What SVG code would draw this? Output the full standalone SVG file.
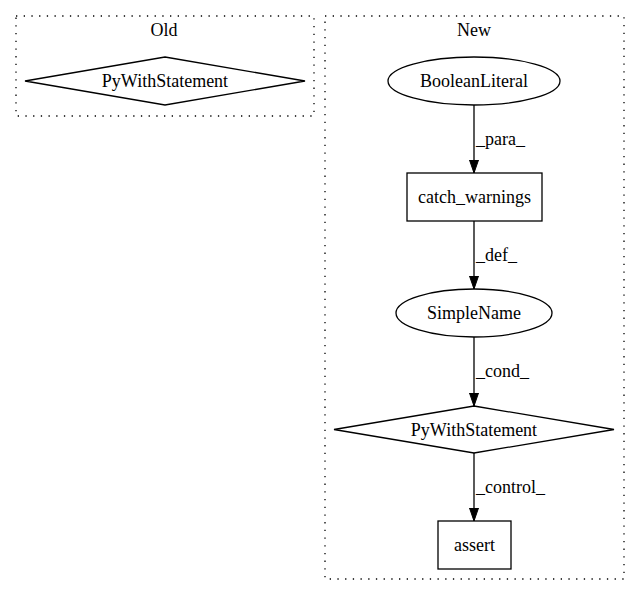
<svg xmlns="http://www.w3.org/2000/svg" width="640" height="596" viewBox="0 0 640 596">
<defs>
<style>
.t{font-family:"Liberation Serif","Times New Roman",Times,serif;font-size:18px;fill:#000}
.m{text-anchor:middle}
.n{fill:none;stroke:#000;stroke-width:1.3}
.c{fill:none;stroke:#000;stroke-width:1.3;stroke-dasharray:1.3,6.4}
.e{fill:none;stroke:#000;stroke-width:1.3}
</style>
<marker id="ah" markerWidth="13" markerHeight="10" refX="13" refY="5" orient="auto" markerUnits="userSpaceOnUse">
<path d="M0,0.5 L13,5 L0,9.5 Z" fill="#000" stroke="#000" stroke-width="1"/>
</marker>
</defs>
<rect width="640" height="596" fill="#fff"/>
<g id="cluster_old">
<rect class="c" x="16" y="16" width="298" height="100"/>
<text class="t m" x="164" y="36">Old</text>
</g>
<g id="cluster_new">
<rect class="c" x="325" y="16" width="299" height="563"/>
<text class="t m" x="474" y="36">New</text>
</g>
<g id="old_pywith">
<polygon class="n" points="165,57 305,81 165,105 25,81"/>
<text class="t m" x="165" y="87">PyWithStatement</text>
</g>
<g id="booleanliteral">
<ellipse class="n" cx="474" cy="81" rx="86" ry="24"/>
<text class="t m" x="474" y="87">BooleanLiteral</text>
</g>
<g id="catch_warnings">
<rect class="n" x="407" y="173" width="135" height="48"/>
<text class="t m" x="474.5" y="203">catch_warnings</text>
</g>
<g id="simplename">
<ellipse class="n" cx="474" cy="313" rx="78" ry="24"/>
<text class="t m" x="474" y="319">SimpleName</text>
</g>
<g id="new_pywith">
<polygon class="n" points="474,406 614,429.5 474,453 334,429.5"/>
<text class="t m" x="474" y="435.5">PyWithStatement</text>
</g>
<g id="assert">
<rect class="n" x="438" y="521" width="73" height="48"/>
<text class="t m" x="474.5" y="551">assert</text>
</g>
<g id="connectors">
<line class="e" x1="474" y1="105" x2="474" y2="173" marker-end="url(#ah)"/>
<text class="t" x="476" y="145">_para_</text>
<line class="e" x1="474" y1="221" x2="474" y2="289" marker-end="url(#ah)"/>
<text class="t" x="476" y="261">_def_</text>
<line class="e" x1="474" y1="337" x2="474" y2="406" marker-end="url(#ah)"/>
<text class="t" x="476" y="377">_cond_</text>
<line class="e" x1="474" y1="453" x2="474" y2="521" marker-end="url(#ah)"/>
<text class="t" x="476" y="493">_control_</text>
</g>
</svg>
